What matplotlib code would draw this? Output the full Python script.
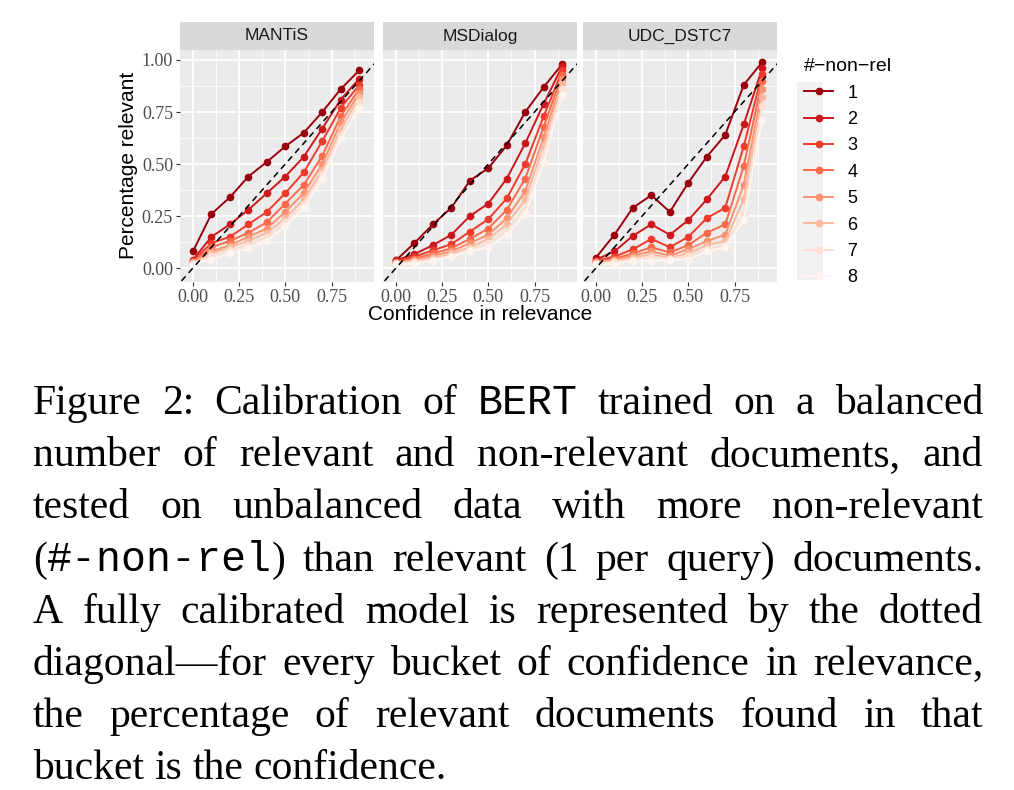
import numpy as np
import matplotlib
matplotlib.use("Agg")
from matplotlib import pyplot as plt
from matplotlib.lines import Line2D
from matplotlib.patches import Rectangle

confidence = [0.0, 0.1, 0.2, 0.3, 0.4, 0.5, 0.6, 0.7, 0.8, 0.9]
datasets = ["MANTiS", "MSDialog", "UDC_DSTC7"]
non_rel = ["1", "2", "3", "4", "5", "6", "7", "8"]

mantis = [
    [.08, .26, .34, .44, .51, .585, .65, .75, .86, .95],
    [.04, .15, .21, .28, .36, .44, .535, .67, .81, .91],
    [.035, .12, .15, .21, .27, .36, .46, .61, .77, .88],
    [.03, .10, .13, .17, .22, .31, .40, .54, .73, .86],
    [.03, .08, .11, .15, .19, .27, .36, .50, .70, .84],
    [.025, .07, .10, .13, .17, .24, .33, .47, .67, .82],
    [.02, .06, .085, .11, .15, .22, .31, .45, .64, .80],
    [.02, .04, .07, .095, .13, .20, .29, .43, .62, .77],
]
msdialog = [
    [.037, .12, .21, .29, .42, .48, .59, .75, .87, .98],
    [.037, .067, .11, .16, .25, .31, .43, .60, .79, .97],
    [.03, .055, .085, .115, .175, .235, .335, .50, .73, .95],
    [.03, .045, .07, .095, .14, .19, .28, .43, .68, .93],
    [.025, .04, .06, .08, .12, .16, .24, .37, .63, .91],
    [.025, .035, .05, .07, .10, .14, .21, .33, .59, .89],
    [.02, .03, .04, .06, .09, .12, .18, .29, .55, .86],
    [.02, .02, .035, .055, .08, .10, .16, .26, .51, .83],
]
udc = [
    [.05, .16, .29, .35, .27, .41, .535, .64, .88, .99],
    [.04, .08, .155, .21, .16, .23, .33, .44, .69, .96],
    [.035, .055, .09, .14, .10, .15, .24, .29, .585, .935],
    [.03, .045, .07, .10, .075, .11, .17, .21, .49, .90],
    [.03, .04, .06, .08, .06, .09, .13, .16, .40, .86],
    [.025, .035, .05, .065, .05, .07, .11, .13, .33, .82],
    [.02, .03, .04, .055, .045, .06, .09, .11, .26, .78],
    [.02, .02, .035, .035, .04, .04, .08, .10, .23, .71],
]
panel_data = [mantis, msdialog, udc]
colors = ["#99000D", "#CB181D", "#EF3B2C", "#FB6A4A", "#FC9272", "#FCBBA1", "#FEE0D2", "#FFF5F0"]

# |...| marks monospace segments
caption = [
    "Figure 2:  Calibration of |BERT| trained on a balanced",
    "number of relevant and non-relevant documents, and",
    "tested on unbalanced data with more non-relevant",
    "(|#-non-rel|) than relevant (1 per query) documents.",
    "A fully calibrated model is represented by the dotted",
    "diagonal\u2014for every bucket of confidence in relevance,",
    "the percentage of relevant documents found in that",
    "bucket is the confidence.",
]

W, H = 1014, 790
fig = plt.figure(figsize=(W / 100, H / 100), dpi=100)

lefts = [180, 383, 583]
pw = 194
for i, (name, series) in enumerate(zip(datasets, panel_data)):
    ax = fig.add_axes([lefts[i] / W, 1 - 282 / H, pw / W, 232 / H])
    ax.set_facecolor("#EBEBEB")
    ax.set_xlim(-0.07, 0.98)
    ax.set_ylim(-0.067, 1.048)
    ax.set_xticks([0, 0.25, 0.5, 0.75])
    ax.set_xticks([0.125, 0.375, 0.625, 0.875], minor=True)
    ax.set_yticks([0, 0.25, 0.5, 0.75, 1.0])
    ax.set_yticks([0.125, 0.375, 0.625, 0.875], minor=True)
    ax.grid(True, which="major", color="white", lw=1.3)
    ax.grid(True, which="minor", color="white", lw=0.6)
    ax.set_axisbelow(True)
    for s in ax.spines.values():
        s.set_visible(False)
    ax.tick_params(which="minor", length=0)
    ax.tick_params(which="major", length=3, color="#333333", labelsize=13, labelcolor="#4D4D4D", pad=2)
    ax.set_xticklabels(["0.00", "0.25", "0.50", "0.75"], fontfamily="Liberation Serif")
    if i == 0:
        ax.set_yticklabels(["0.00", "0.25", "0.50", "0.75", "1.00"], fontfamily="Liberation Serif")
    else:
        ax.tick_params(axis="y", length=0, labelleft=False)
    ax.plot([-0.1, 1.0], [-0.1, 1.0], ls=(0, (4, 3)), color="black", lw=1.1, zorder=3)
    for vals, c in zip(series, colors):
        ax.plot(confidence, vals, "-o", color=c, lw=1.4, ms=4.5, zorder=2)
    st = fig.add_axes([lefts[i] / W, 1 - 50 / H, pw / W, 28 / H])
    st.set_facecolor("#D9D9D9")
    st.set_xticks([]); st.set_yticks([])
    for s in st.spines.values():
        s.set_visible(False)
    st.text(0.5, 0.5, name, ha="center", va="center", fontsize=12.5, color="#1A1A1A",
            fontfamily="Liberation Sans", transform=st.transAxes)

fig.text(480 / W, 1 - 314 / H, "Confidence in relevance", ha="center", va="center",
         fontsize=15, fontfamily="Liberation Sans")
fig.text(128 / W, 1 - 165 / H, "Percentage relevant", ha="center", va="center",
         rotation=90, fontsize=15, fontfamily="Liberation Sans")

fig.patches.append(Rectangle((797 / W, 1 - 280 / H), 26 / W, 198 / H, transform=fig.transFigure,
                             facecolor="#F2F2F2", edgecolor="none", zorder=0))
handles = [Line2D([], [], color=c, marker="o", lw=1.4, ms=4.5) for c in colors]
leg = fig.legend(handles, non_rel, title="#\u2212non\u2212rel", loc="upper left",
                 bbox_to_anchor=(788 / W, 1 - 42 / H), frameon=False,
                 prop={"family": "Liberation Sans", "size": 13}, labelspacing=0.52,
                 handlelength=1.6, title_fontproperties={"family": "Liberation Sans", "size": 14})
leg._legend_box.align = "left"

# caption, justified line by line
fig.canvas.draw()
r = fig.canvas.get_renderer()
fams = {0: "Liberation Serif", 1: "Liberation Mono"}


def seg_width(p, f):
    t = fig.text(0, 0, p, fontsize=30, fontfamily=fams[f])
    w = t.get_window_extent(r).width
    t.remove()
    return w


x0, x1 = 33, 983
y = 414
space = seg_width("a b", 0) - seg_width("ab", 0)
for li, line in enumerate(caption):
    groups = []
    for word in line.split():
        segs = [(p, k % 2) for k, p in enumerate(word.split("|")) if p]
        groups.append(segs)
    widths = [sum(seg_width(p, f) for p, f in g) for g in groups]
    last = li == len(caption) - 1
    gap = space if last else (x1 - x0 - sum(widths)) / (len(groups) - 1)
    x = x0
    for g, w in zip(groups, widths):
        xx = x
        for p, f in g:
            fig.text(xx / W, 1 - y / H, p, fontsize=30, fontfamily=fams[f], va="baseline")
            xx += seg_width(p, f)
        x += w + gap
    y += 52.2

fig.savefig("out.png", dpi=100)
